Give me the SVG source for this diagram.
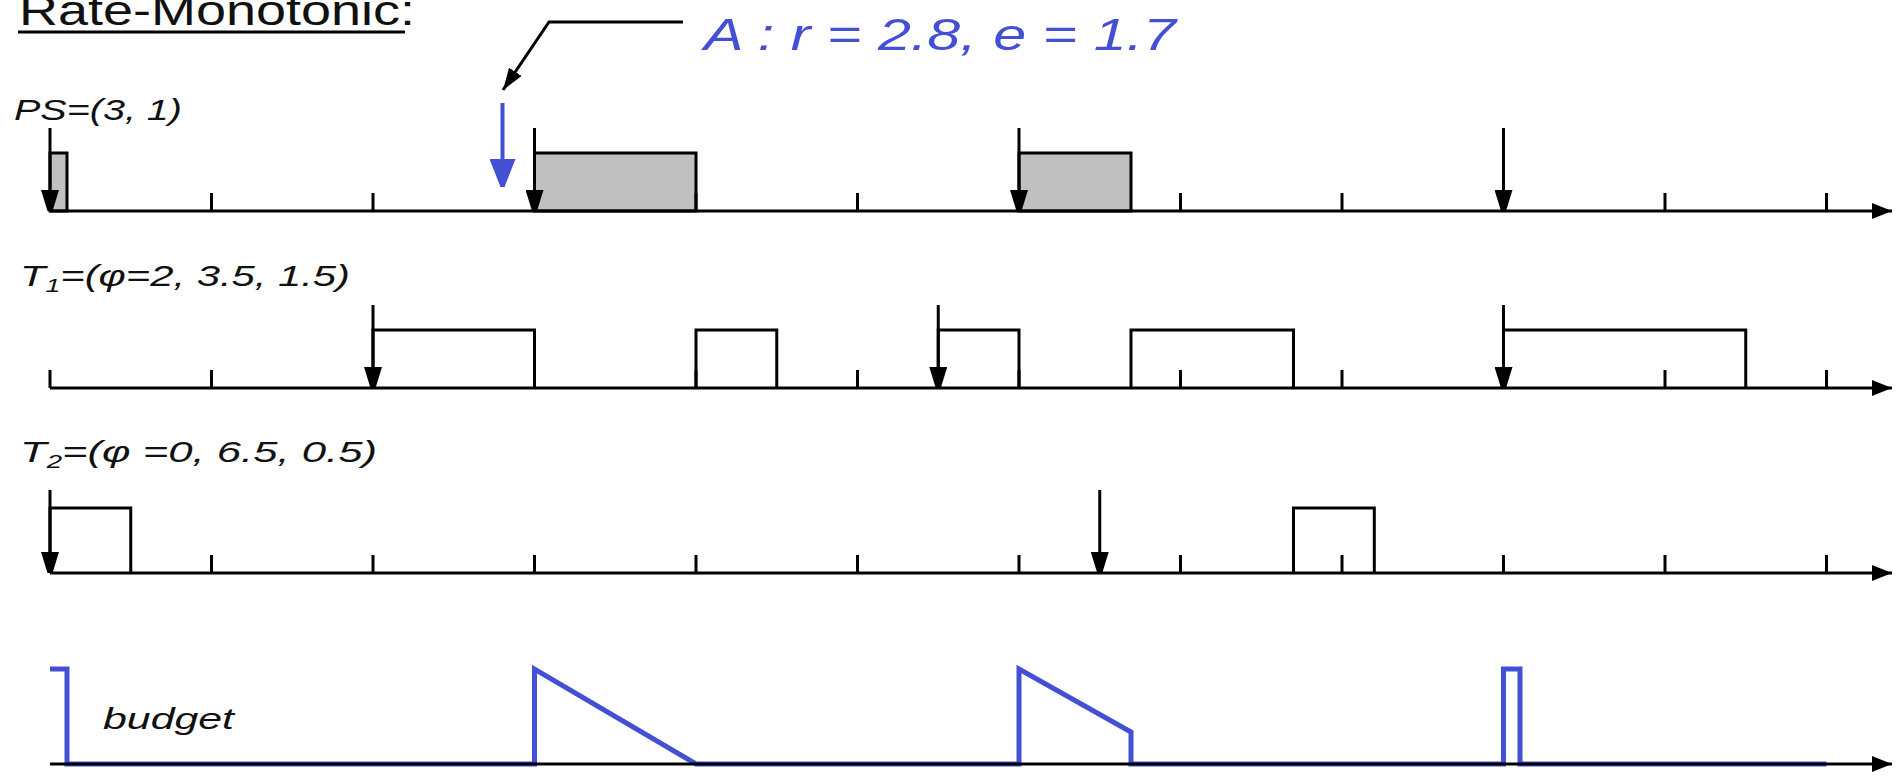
<svg xmlns="http://www.w3.org/2000/svg" xmlns:xlink="http://www.w3.org/1999/xlink" width="1902" height="776" viewBox="0 0 1902 776">
  <style>
    .ax{stroke:#000;stroke-width:3;fill:none}
    .tk{stroke:#000;stroke-width:3;fill:none}
    .rel{stroke:#000;stroke-width:3;fill:none;marker-end:url(#mRel)}
    .ps{fill:#c0c0c0;stroke:#000;stroke-width:3}
    .job{fill:none;stroke:#000;stroke-width:3}
    .lbl{font-family:"Liberation Sans",Arial,sans-serif;font-style:italic;fill:#111}
    .budget{fill:none;stroke:#4350d4;stroke-width:5;stroke-linejoin:miter}
  </style>
  <defs>
    <marker id="mRel" markerUnits="userSpaceOnUse" markerWidth="21" markerHeight="18" refX="21" refY="9" orient="auto" viewBox="0 0 21 18">
      <path d="M0,0 L21,6.5 L21,11.5 L0,18 z" fill="#000"/>
    </marker>
    <marker id="mAxis" markerUnits="userSpaceOnUse" markerWidth="20" markerHeight="16" refX="20" refY="8" orient="auto" viewBox="0 0 20 16">
      <path d="M0,0 L20,8 L0,16 z" fill="#000"/>
    </marker>
    <marker id="mBlue" markerUnits="userSpaceOnUse" markerWidth="28" markerHeight="26" refX="28" refY="13" orient="auto" viewBox="0 0 28 26">
      <path d="M0,0 L28,11 L28,15 L0,26 z" fill="#4350d4"/>
    </marker>
    <marker id="mLead" markerUnits="userSpaceOnUse" markerWidth="22" markerHeight="15" refX="22" refY="7.5" orient="auto" viewBox="0 0 22 15">
      <path d="M0,0 L22,7.5 L0,15 z" fill="#000"/>
    </marker>
    <path id="tickrow" class="tk" d="M50,-18V0 M211.5,-18V0 M373,-18V0 M534.5,-18V0 M696,-18V0 M857.5,-18V0 M1019,-18V0 M1180.5,-18V0 M1342,-18V0 M1503.5,-18V0 M1665,-18V0 M1826.5,-18V0"/>
  </defs>

  <g id="title">
    <text x="19" y="25" font-family="'Liberation Sans',Arial,sans-serif" font-size="42" fill="#111" textLength="396" lengthAdjust="spacingAndGlyphs">Rate-Monotonic:</text>
    <line x1="18" y1="32" x2="405" y2="32" stroke="#000" stroke-width="3"/>
  </g>

  <g id="annotation">
    <text x="704" y="50" class="lbl" font-size="44" style="fill:#4350d4" textLength="472" lengthAdjust="spacingAndGlyphs">A : r = 2.8, e = 1.7</text>
  </g>

  <g id="row-ps">
    <text x="14" y="120" class="lbl" font-size="30" textLength="168" lengthAdjust="spacingAndGlyphs">PS=(3, 1)</text>
    <rect class="ps" x="50" y="153" width="17" height="58"/>
    <rect class="ps" x="534.5" y="153" width="161.5" height="58"/>
    <rect class="ps" x="1019" y="153" width="112" height="58"/>
    <use xlink:href="#tickrow" y="211"/>
  </g>

  <g id="row-t1">
    <text x="20" y="286" class="lbl" font-size="30" textLength="330" lengthAdjust="spacingAndGlyphs">T<tspan font-size="19" dy="6">1</tspan><tspan dy="-6">=(φ=2, 3.5, 1.5)</tspan></text>
    <path class="job" d="M373,388V330H534.5V388 M696,388V330H776.75V388 M938.25,388V330H1019V388 M1131,388V330H1293.5V388 M1503.5,388V330H1745.75V388"/>
    <use xlink:href="#tickrow" y="388"/>
  </g>

  <g id="row-t2">
    <text x="20" y="462" class="lbl" font-size="30" textLength="357" lengthAdjust="spacingAndGlyphs">T<tspan font-size="19" dy="6">2</tspan><tspan dy="-6">=(φ =0, 6.5, 0.5)</tspan></text>
    <path class="job" d="M50,573V508H130.75V573 M1293.5,573V508H1374.3V573"/>
    <use xlink:href="#tickrow" y="573"/>
  </g>

  <g id="row-budget">
    <text x="103" y="729" class="lbl" font-size="30" textLength="131" lengthAdjust="spacingAndGlyphs">budget</text>
    <path class="budget" d="M50,669H67V764H534.5V669L696,764H1019V669L1131,732V764H1503.5V669H1520V764H1826.5"/>
  </g>

  <g id="connectors">
    <line class="ax" x1="50" y1="211" x2="1892" y2="211" marker-end="url(#mAxis)"/>
    <line class="ax" x1="50" y1="388" x2="1892" y2="388" marker-end="url(#mAxis)"/>
    <line class="ax" x1="50" y1="573" x2="1892" y2="573" marker-end="url(#mAxis)"/>
    <line class="ax" x1="50" y1="764" x2="1892" y2="764" marker-end="url(#mAxis)"/>
    <line class="rel" x1="50" y1="128" x2="50" y2="211"/>
    <line class="rel" x1="534.5" y1="128" x2="534.5" y2="211"/>
    <line class="rel" x1="1019" y1="128" x2="1019" y2="211"/>
    <line class="rel" x1="1503.5" y1="128" x2="1503.5" y2="211"/>
    <line class="rel" x1="373" y1="305" x2="373" y2="388"/>
    <line class="rel" x1="938.25" y1="305" x2="938.25" y2="388"/>
    <line class="rel" x1="1503.5" y1="305" x2="1503.5" y2="388"/>
    <line class="rel" x1="50" y1="490" x2="50" y2="573"/>
    <line class="rel" x1="1099.75" y1="490" x2="1099.75" y2="573"/>
    <line x1="502.5" y1="103" x2="502.5" y2="187" stroke="#4350d4" stroke-width="4" marker-end="url(#mBlue)"/>
    <polyline points="683,22 549,22 503,90" fill="none" stroke="#000" stroke-width="3" marker-end="url(#mLead)"/>
  </g>
</svg>
